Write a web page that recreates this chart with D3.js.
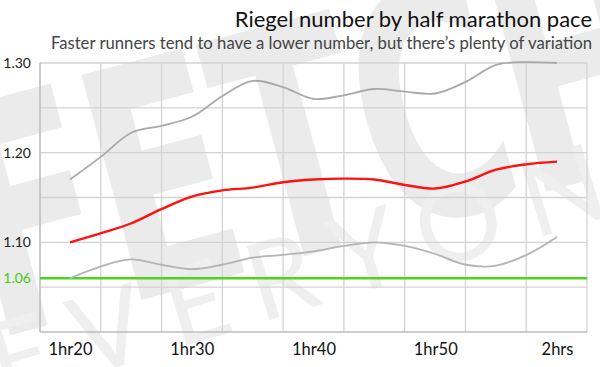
<!DOCTYPE html>
<html>
<head>
<meta charset="utf-8">
<script src="https://cdn.jsdelivr.net/npm/d3@7"></script>
<style>
  html, body { margin: 0; padding: 0; background: #fff; }
  svg { display: block; }
  text { font-family: Lato, "Open Sans", sans-serif; }
</style>
</head>
<body>
<svg id="chart" width="600" height="367"></svg>
<script>
// ---- data ----
const title = "Riegel number by half marathon pace";
const subtitle = "Faster runners tend to have a lower number, but there’s plenty of variation";
// half marathon finishing time in minutes
const paceMinutes = [80, 82.5, 85, 87.5, 90, 92.5, 95, 97.5, 100, 102.5, 105, 107.5, 110, 112.5, 115, 117.5, 120];
const upperRiegel = [1.170, 1.195, 1.222, 1.230, 1.240, 1.263, 1.280, 1.273, 1.260, 1.264, 1.271, 1.268, 1.266, 1.279, 1.298, 1.301, 1.300];
const medianRiegel = [1.100, 1.110, 1.121, 1.137, 1.151, 1.158, 1.161, 1.167, 1.170, 1.171, 1.170, 1.164, 1.160, 1.168, 1.181, 1.187, 1.190];
const lowerRiegel = [1.060, 1.073, 1.081, 1.075, 1.070, 1.075, 1.083, 1.086, 1.090, 1.096, 1.100, 1.096, 1.087, 1.075, 1.074, 1.086, 1.106];
const referenceRiegel = 1.06;
const xTickValues = [80, 90, 100, 110, 120];
const xTickLabels = ["1hr20", "1hr30", "1hr40", "1hr50", "2hrs"];
const yTickValues = [1.30, 1.20, 1.10];
const yGridValues = [1.00, 1.05, 1.10, 1.15, 1.20, 1.25, 1.30];
const verticalGridCount = 9;
const watermarkWords = ["FETCH", "EVERYONE"];

// ---- layout ----
const svg = d3.select("#chart");
const plot = { left: 40, right: 587, top: 63, bottom: 332 };

const x = d3.scaleLinear().domain([80, 120]).range([70, 557]);
const y = d3.scaleLinear().domain([1.0, 1.3]).range([plot.bottom, plot.top]);
const gridX = d3.scaleLinear().domain([0, verticalGridCount]).range([plot.left, plot.right]);

// ---- watermark ----
const wm = svg.append("g").attr("class", "watermark");
wm.append("g")
  .attr("transform", "translate(-8,340) rotate(-15)")
  .append("text")
  .attr("transform", "scale(1,1.4)")
  .attr("font-weight", "bold")
  .attr("font-size", 228)
  .attr("letter-spacing", -4)
  .attr("fill", "#ebebeb")
  .style("font-family", "'Liberation Sans Narrow', 'DejaVu Sans Condensed', sans-serif")
  .text(watermarkWords[0]);
wm.append("g")
  .attr("transform", "translate(2,402) rotate(-17)")
  .append("text")
  .attr("font-weight", 400)
  .attr("font-size", 108)
  .attr("letter-spacing", 24)
  .attr("fill", "#efefef")
  .style("font-family", "Lato, sans-serif")
  .text(watermarkWords[1]);

// ---- grid ----
const grid = svg.append("g").attr("class", "grid");
grid.selectAll("line.v")
  .data(d3.range(1, verticalGridCount + 1))
  .join("line")
  .attr("class", "v")
  .attr("x1", d => gridX(d)).attr("x2", d => gridX(d))
  .attr("y1", plot.top).attr("y2", plot.bottom)
  .attr("stroke", "#d3d3d3").attr("stroke-width", 1.3);
grid.selectAll("line.h")
  .data(yGridValues.slice(1))
  .join("line")
  .attr("class", "h")
  .attr("x1", plot.left).attr("x2", plot.right)
  .attr("y1", d => y(d)).attr("y2", d => y(d))
  .attr("stroke", "#d3d3d3").attr("stroke-width", 1.3);
// frame left & bottom
svg.append("line")
  .attr("x1", plot.left).attr("x2", plot.left)
  .attr("y1", plot.top).attr("y2", plot.bottom)
  .attr("stroke", "#bdbdbd").attr("stroke-width", 1.6);
svg.append("line")
  .attr("x1", plot.left).attr("x2", plot.right)
  .attr("y1", plot.bottom).attr("y2", plot.bottom)
  .attr("stroke", "#bdbdbd").attr("stroke-width", 1.6);

// ---- axes (labels) ----
const yAxis = d3.axisLeft(y).tickValues(yTickValues).tickSize(0).tickPadding(9)
  .tickFormat(d3.format(".2f"));
const gy = svg.append("g").attr("transform", `translate(${plot.left},0)`).call(yAxis);
gy.select(".domain").remove();
gy.selectAll("text").attr("font-size", 14).attr("fill", "#222")
  .style("font-family", "Lato, sans-serif");

const xAxis = d3.axisBottom(x).tickValues(xTickValues).tickSize(0).tickPadding(11)
  .tickFormat((d, i) => xTickLabels[i]);
const gx = svg.append("g").attr("transform", `translate(0,${plot.bottom})`).call(xAxis);
gx.select(".domain").remove();
gx.selectAll("text").attr("font-size", 16.5).attr("fill", "#111")
  .style("font-family", "Lato, sans-serif");

// reference line 1.06
svg.append("line")
  .attr("x1", plot.left).attr("x2", plot.right)
  .attr("y1", y(referenceRiegel)).attr("y2", y(referenceRiegel))
  .attr("stroke", "#4fd322").attr("stroke-width", 2.4);
svg.append("text")
  .attr("x", plot.left - 9).attr("y", y(referenceRiegel)).attr("dy", "0.32em")
  .attr("text-anchor", "end").attr("font-size", 14).attr("fill", "#44cc11")
  .text(d3.format(".2f")(referenceRiegel));

// ---- lines ----
const line = d3.line()
  .x((d, i) => x(paceMinutes[i]))
  .y(d => y(d))
  .curve(d3.curveCatmullRom.alpha(0.5));

svg.append("path").datum(upperRiegel).attr("d", line)
  .attr("fill", "none").attr("stroke", "#a9a9a9").attr("stroke-width", 1.8);
svg.append("path").datum(lowerRiegel).attr("d", line)
  .attr("fill", "none").attr("stroke", "#b4b4b4").attr("stroke-width", 1.8);
svg.append("path").datum(medianRiegel).attr("d", line)
  .attr("fill", "none").attr("stroke", "#ff1111").attr("stroke-width", 2.4);

// ---- titles ----
svg.append("text").attr("x", 592).attr("y", 27).attr("text-anchor", "end")
  .attr("font-size", 22).attr("fill", "#111").text(title);
svg.append("text").attr("x", 592).attr("y", 49).attr("text-anchor", "end")
  .attr("font-size", 16.7).attr("fill", "#444").text(subtitle);
</script>
</body>
</html>
